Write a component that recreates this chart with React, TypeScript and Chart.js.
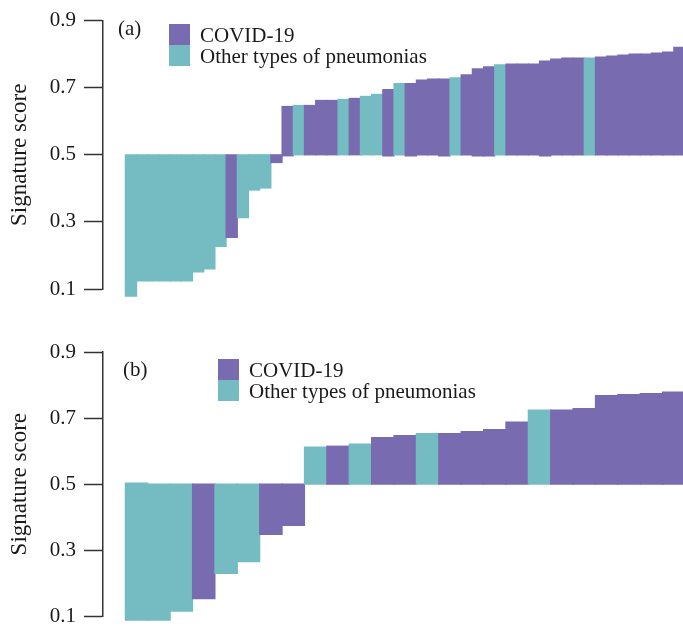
import React, { useEffect, useRef } from 'react';
import { Chart, registerables } from 'chart.js';

Chart.register(...registerables);

// ---------- data ----------
const seriesNames = ['COVID-19', 'Other types of pneumonias'];
const panelLabels = ['(a)', '(b)'];
const yTickValues = [0.1, 0.3, 0.5, 0.7, 0.9];
const yAxisTitle = 'Signature score';
const baseline = 0.5;

// Panel (a): 50 samples, sorted signature score
const scoresA = [
  0.079, 0.124, 0.124, 0.124, 0.124, 0.124, 0.151, 0.16, 0.227, 0.254,
  0.313, 0.395, 0.401, 0.477, 0.644, 0.647, 0.647, 0.662, 0.662, 0.665,
  0.668, 0.674, 0.68, 0.694, 0.712, 0.712, 0.723, 0.726, 0.726, 0.729,
  0.738, 0.756, 0.762, 0.768, 0.77, 0.77, 0.77, 0.779, 0.785, 0.788,
  0.788, 0.788, 0.791, 0.794, 0.797, 0.8, 0.8, 0.803, 0.806, 0.82,
];
// C = COVID-19, O = other pneumonia
const groupsA = [
  'O', 'O', 'O', 'O', 'O', 'O', 'O', 'O', 'O', 'C',
  'O', 'O', 'O', 'C', 'C', 'O', 'C', 'C', 'C', 'O',
  'C', 'O', 'O', 'C', 'O', 'C', 'C', 'C', 'C', 'O',
  'C', 'C', 'C', 'O', 'C', 'C', 'C', 'C', 'C', 'C',
  'C', 'O', 'C', 'C', 'C', 'C', 'C', 'C', 'C', 'C',
];
// bars whose lower edge dips slightly under the 0.5 baseline
const dippedA = [14, 23, 25, 28, 31, 32, 37];
const dipEdgeA = 0.497;

// Panel (b): 25 samples
const scoresB = [
  0.089, 0.089, 0.116, 0.154, 0.23, 0.266, 0.348, 0.375, 0.612, 0.615,
  0.621, 0.641, 0.647, 0.653, 0.653, 0.659, 0.665, 0.688, 0.724, 0.724,
  0.729, 0.768, 0.771, 0.774, 0.779,
];
const groupsB = [
  'O', 'O', 'O', 'C', 'O', 'O', 'C', 'C', 'O', 'C',
  'O', 'C', 'C', 'O', 'C', 'C', 'C', 'C', 'O', 'C',
  'C', 'C', 'C', 'C', 'C',
];
// bars whose upper edge rises slightly over the 0.5 baseline
const raisedB = [0];
const raiseEdgeB = 0.503;

// ---------- styles ----------
const COVID_COLOR = '#786BAF';
const OTHER_COLOR = '#74BCC2';
const AXIS_COLOR = '#333333';
const TEXT_COLOR = '#1a1a1a';
const FONT = '"Liberation Serif", "Times New Roman", serif';

Chart.defaults.font.family = FONT;

function buildBars(scores: number[], dipped: number[], dipEdge: number, raised: number[], raiseEdge: number) {
  return scores.map((v, i) => {
    if (v >= baseline) {
      const lo = dipped.includes(i) ? dipEdge : baseline;
      return { x: i, y: [lo, v] };
    }
    const hi = raised.includes(i) ? raiseEdge : baseline;
    return { x: i, y: [v, hi] };
  });
}

type PanelOpts = {
  scores: number[];
  groups: string[];
  dipped: number[];
  dipEdge: number;
  raised: number[];
  raiseEdge: number;
  lead: number;
  label: string;
  labelX: number;
  labelY: number;
  legendX: number;
  legendY: number;
  padTop: number;
  padBottom: number;
};

function makeChart(canvas: HTMLCanvasElement, o: PanelOpts) {
  const legendPlugin = {
    id: 'panelLegend',
    afterDraw(chart: any) {
      const ctx = chart.ctx as CanvasRenderingContext2D;
      ctx.save();
      ctx.font = `21px ${FONT}`;
      ctx.fillStyle = TEXT_COLOR;
      ctx.textBaseline = 'alphabetic';
      ctx.textAlign = 'left';
      ctx.fillText(o.label, o.labelX, o.labelY);
      const sq = 21;
      const colors = [COVID_COLOR, OTHER_COLOR];
      seriesNames.forEach((name, k) => {
        ctx.fillStyle = colors[k];
        ctx.fillRect(o.legendX, o.legendY + k * sq, sq, sq);
        ctx.fillStyle = TEXT_COLOR;
        ctx.fillText(name, o.legendX + 31, o.legendY + k * sq + 18);
      });
      ctx.restore();
    },
  };

  return new Chart(canvas, {
    type: 'bar',
    data: {
      datasets: [
        {
          data: buildBars(o.scores, o.dipped, o.dipEdge, o.raised, o.raiseEdge) as any,
          backgroundColor: o.groups.map((g) => (g === 'C' ? COVID_COLOR : OTHER_COLOR)),
          borderWidth: 0,
          barPercentage: 1,
          categoryPercentage: 1,
          inflateAmount: 0.6,
          clip: false as any,
        },
      ],
    },
    options: {
      animation: false,
      responsive: false,
      events: [],
      layout: { padding: { top: o.padTop, bottom: o.padBottom, left: 0, right: 0 } },
      plugins: { legend: { display: false }, tooltip: { enabled: false }, title: { display: false } },
      scales: {
        x: {
          type: 'linear',
          display: false,
          offset: false,
          min: -o.lead - 0.5,
          max: o.scores.length - 0.5,
          grid: { offset: false },
        },
        y: {
          min: 0.1,
          max: 0.9,
          afterFit: (scale: any) => {
            scale.width = 103;
          },
          afterBuildTicks: (scale: any) => {
            scale.ticks = yTickValues.map((v) => ({ value: v }));
          },
          ticks: {
            padding: 8,
            color: TEXT_COLOR,
            font: { size: 21, family: FONT },
            callback: (v: any) => Number(v).toFixed(1),
          },
          grid: {
            drawOnChartArea: false,
            drawTicks: true,
            tickLength: 19,
            tickWidth: 1.5,
            tickColor: AXIS_COLOR,
          },
          border: { display: true, color: AXIS_COLOR, width: 1.5 },
          title: {
            display: true,
            text: yAxisTitle,
            color: TEXT_COLOR,
            font: { size: 23, family: FONT },
            padding: { top: 6, bottom: 0 },
          },
        },
      },
    },
    plugins: [legendPlugin],
  });
}

export default function App() {
  const refA = useRef<HTMLCanvasElement | null>(null);
  const refB = useRef<HTMLCanvasElement | null>(null);

  useEffect(() => {
    const a = makeChart(refA.current!, {
      scores: scoresA,
      groups: groupsA,
      dipped: dippedA,
      dipEdge: dipEdgeA,
      raised: [],
      raiseEdge: baseline,
      lead: 2,
      label: panelLabels[0],
      labelX: 118,
      labelY: 35,
      legendX: 169,
      legendY: 24,
      padTop: 17,
      padBottom: 29,
    });
    const b = makeChart(refB.current!, {
      scores: scoresB,
      groups: groupsB,
      dipped: [],
      dipEdge: baseline,
      raised: raisedB,
      raiseEdge: raiseEdgeB,
      lead: 1,
      label: panelLabels[1],
      labelX: 123,
      labelY: 58,
      legendX: 218,
      legendY: 41,
      padTop: 34,
      padBottom: 13,
    });
    return () => {
      a.destroy();
      b.destroy();
    };
  }, []);

  return (
    <div
      style={{
        position: 'absolute',
        left: 0,
        top: 0,
        width: 683,
        height: 637,
        overflow: 'hidden',
        background: '#ffffff',
      }}
    >
      <canvas ref={refA} width={685} height={318} style={{ display: 'block' }} />
      <canvas ref={refB} width={685} height={319} style={{ display: 'block' }} />
    </div>
  );
}
